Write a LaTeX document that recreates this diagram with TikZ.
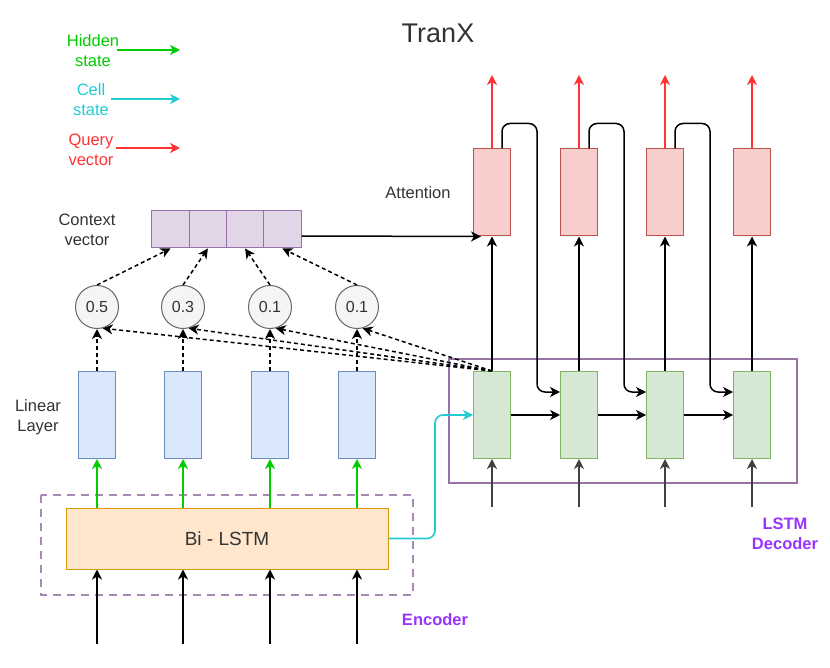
\documentclass[tikz,border=0pt]{standalone}
\usepackage{fontspec}
\setmainfont{Liberation Sans}
\usetikzlibrary{positioning,arrows.meta}

\definecolor{attfill}{HTML}{F8CECC}
\definecolor{attline}{HTML}{B85450}
\definecolor{decfill}{HTML}{D5E8D4}
\definecolor{decline}{HTML}{82B366}
\definecolor{linfill}{HTML}{DAE8FC}
\definecolor{linline}{HTML}{6C8EBF}
\definecolor{ctxfill}{HTML}{E1D5E7}
\definecolor{ctxline}{HTML}{9673A6}
\definecolor{encfill}{HTML}{FFE6CC}
\definecolor{encline}{HTML}{D79B00}
\definecolor{wfill}{HTML}{F5F5F5}
\definecolor{wline}{HTML}{666666}
\definecolor{hidcol}{HTML}{00CC00}
\definecolor{celcol}{HTML}{22CCD2}
\definecolor{qrycol}{HTML}{FF3333}
\definecolor{lblcol}{HTML}{9933FF}
\definecolor{txtcol}{HTML}{333333}

\tikzset{
    cellbox/.style={draw, line width=1pt, minimum width=37pt, minimum height=87pt, inner sep=0pt},
    attbox/.style={cellbox, fill=attfill, draw=attline},
    decbox/.style={cellbox, fill=decfill, draw=decline},
    linbox/.style={cellbox, fill=linfill, draw=linline},
    ctxcell/.style={draw=ctxline, fill=ctxfill, line width=1pt, minimum width=37.25pt, minimum height=37pt, inner sep=0pt},
    wcircle/.style={circle, draw=wline, fill=wfill, line width=1pt, minimum size=43pt, inner sep=0pt, text=txtcol, font=\fontsize{16}{18}\selectfont},
    txt/.style={text=txtcol, align=center, inner sep=0pt, font=\fontsize{16.5}{20}\selectfont},
    purplbl/.style={text=lblcol, align=center, inner sep=0pt, font=\fontsize{16.5}{20}\selectfont\bfseries},
    tip/.style={-{Stealth[length=10pt,width=10pt,inset=3pt]}},
    conn/.style={tip, line width=1.5pt, black},
    dashconn/.style={conn, dash pattern=on 4pt off 3pt},
    hid/.style={tip, line width=1.6pt, hidcol},
    cel/.style={tip, line width=1.6pt, celcol},
    qry/.style={tip, line width=1.8pt, qrycol},
}

\begin{document}
\begin{tikzpicture}[x=1pt, y=-1pt]
    \useasboundingbox (0,0) rectangle (830,668);

    % title and legend
    \node[txt, font=\fontsize{27}{30}\selectfont] (title) at (438,33) {TranX};
    \node[txt, text=hidcol] (lghid) at (93,51) {Hidden\\state};
    \node[txt, text=celcol] (lgcel) at (91,100) {Cell\\state};
    \node[txt, text=qrycol] (lgqry) at (91,150) {Query\\vector};
    \coordinate (lghidend) at (180,50);
    \coordinate (lgcelend) at (180,99);
    \coordinate (lgqryend) at (180,148);
    \draw[hid] (lghid.east |- lghidend) ++(-2,0) -- (lghidend);
    \draw[cel] (lgcel.east |- lgcelend) ++(2,0) -- (lgcelend);
    \draw[qry] (lgqry.east |- lgqryend) ++(2,0) -- (lgqryend);

    % side labels
    \node[txt] (ctxlbl) at (87,230) {Context\\vector};
    \node[txt] (attlbl) at (418,193) {Attention};
    \node[txt] (linlbl) at (38,417) {Linear\\Layer};
    \node[purplbl] (enclbl) at (435,620) {Encoder};
    \node[purplbl] (declbl) at (785,534) {LSTM\\Decoder};

    % frames
    \draw[ctxline, line width=2.2pt] (449,359) rectangle (797,483);
    \draw[ctxline!85, line width=2.2pt, dash pattern=on 8pt off 6pt] (41,495) rectangle (413,595);

    % decoder side
    \foreach \i/\x in {1/492,2/579,3/665,4/752} {
        \node[attbox] (att\i) at (\x,192.5) {};
        \node[decbox] (dec\i) at (\x,415) {};
        \coordinate (din\i) at (\x,507);
        \coordinate (qout\i) at (\x,75);
        \draw[qry] (att\i.north) -- (qout\i);
        \draw[conn] (dec\i.north) -- (att\i.south);
        \draw[conn, black!75] (din\i) -- (dec\i.south);
    }
    \foreach \i/\j in {1/2,2/3,3/4} {
        \draw[conn] (dec\i.east) -- (dec\j.west);
        \draw[conn, rounded corners=8pt] ([xshift=10pt]att\i.north) -- ++(0,-25)
            -| ([xshift=26pt,yshift=23pt]dec\i.east) -- ([yshift=23pt]dec\j.west);
    }

    % context vector
    \foreach \i/\x in {1/170.6,2/207.9,3/245.1,4/282.4} {
        \node[ctxcell] (ctx\i) at (\x,229.5) {};
    }
    \draw[conn] ([yshift=-6.5pt]ctx4.east) -- ([xshift=8pt]att1.south west);

    % encoder side
    \node[draw=encline, fill=encfill, line width=1pt, minimum width=322pt, minimum height=61pt,
        inner sep=0pt, text=txtcol, font=\fontsize{19}{22}\selectfont] (bi) at (227,538.5) {Bi - LSTM};
    \foreach \i/\x/\w in {1/97/0.5,2/183/0.3,3/270/0.1,4/357/0.1} {
        \node[linbox] (lin\i) at (\x,415) {};
        \node[wcircle] (w\i) at (\x,307) {\w};
        \coordinate (ein\i) at (\x,644);
        \draw[conn] (ein\i) -- (ein\i |- bi.south);
        \draw[hid] (lin\i.south |- bi.north) -- (lin\i.south);
        \draw[dashconn] (lin\i.north) -- (w\i.south);
        \draw[dashconn] (w\i.north) -- (ctx\i.south);
        \draw[dashconn] (dec1.north) -- (w\i.-75);
    }
    \draw[cel, rounded corners=8pt] (bi.east) -| ([xshift=-38pt]dec1.west) -- (dec1.west);
\end{tikzpicture}
\end{document}
